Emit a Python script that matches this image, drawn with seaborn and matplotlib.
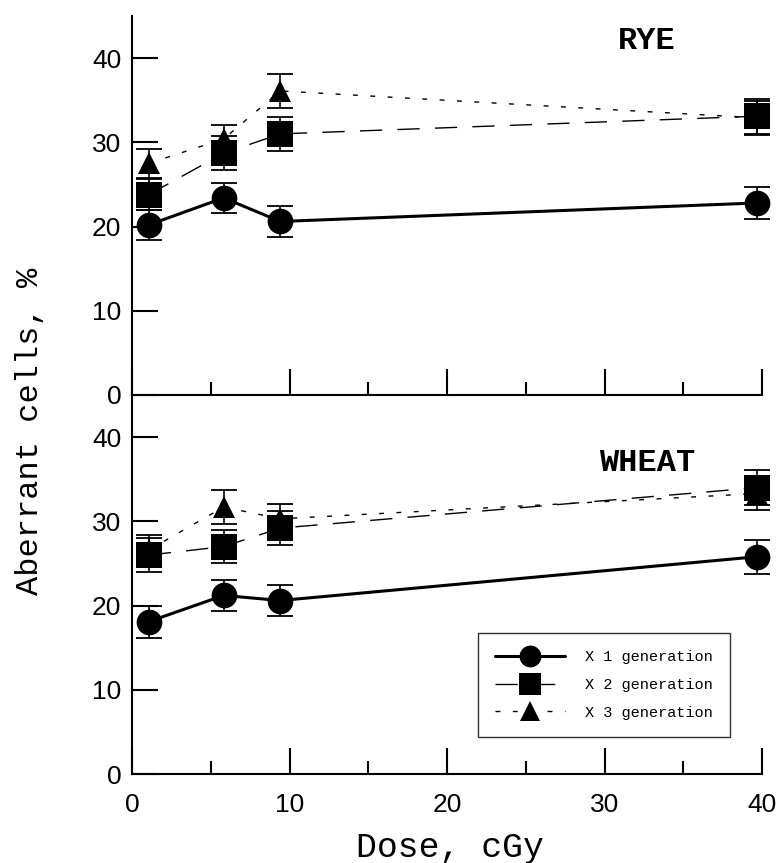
import matplotlib
matplotlib.use("Agg")
import matplotlib.pyplot as plt
from matplotlib.ticker import MultipleLocator
import seaborn as sns

# dose points (cGy)
dose = [1.05, 5.8, 9.4, 39.7]

# RYE - aberrant cells, %
rye_x1 = [20.2, 23.4, 20.6, 22.8]
rye_x1_err = [1.8, 1.8, 1.8, 1.9]
rye_x2 = [23.8, 28.7, 31.0, 33.1]
rye_x2_err = [1.8, 2.0, 2.0, 2.1]
rye_x3 = [27.5, 30.4, 36.1, 32.9]
rye_x3_err = [1.7, 1.6, 2.0, 2.0]

# WHEAT - aberrant cells, %
wheat_x1 = [18.1, 21.2, 20.6, 25.8]
wheat_x1_err = [1.9, 1.8, 1.8, 2.0]
wheat_x2 = [26.0, 27.0, 29.2, 34.0]
wheat_x2_err = [2.0, 2.0, 2.0, 2.1]
wheat_x3 = [26.6, 31.7, 30.3, 33.3]
wheat_x3_err = [1.8, 2.0, 1.7, 2.0]

labels = ["X 1 generation", "X 2 generation", "X 3 generation"]

sns.set_theme(style="white")
plt.rcParams['font.family'] = ['Liberation Sans', 'DejaVu Sans']
plt.rcParams['text.color'] = 'black'
plt.rcParams['xtick.color'] = 'black'
plt.rcParams['ytick.color'] = 'black'
plt.rcParams['axes.labelcolor'] = 'black'

fig = plt.figure(figsize=(7.84, 8.63), dpi=100)
ax_top = fig.add_axes([0.1688, 0.5423, 0.8032, 0.4392])
ax_bot = fig.add_axes([0.1688, 0.1031, 0.8032, 0.4392])

# style per generation: marker, markersize, linewidth, linestyle
styles = {
    0: dict(marker='o', markersize=18.5, linewidth=2.2, linestyle='-'),
    1: dict(marker='s', markersize=18.5, linewidth=1.0, linestyle=(0, (16, 11))),
    2: dict(marker='^', markersize=16.5, linewidth=1.0, linestyle=(0, (3.5, 9))),
}


def draw_panel(ax, series, errs, name, name_y):
    # X3 drawn before X2 so the squares sit on top
    for i in [0, 2, 1]:
        ax.errorbar(dose, series[i], yerr=errs[i], fmt='none', ecolor='black',
                    elinewidth=1.2, capsize=9.4, capthick=1.3, zorder=2,
                    clip_on=False)
        sns.lineplot(x=dose, y=series[i], ax=ax, color='black', legend=False,
                     label=labels[i], markeredgewidth=0, clip_on=False,
                     zorder=3, **styles[i])
    ax.set_xlim(0, 40)
    ax.set_ylim(0, 45)
    ax.set_xlabel('')
    ax.set_ylabel('')
    ax.xaxis.set_major_locator(MultipleLocator(10))
    ax.xaxis.set_minor_locator(MultipleLocator(5))
    ax.yaxis.set_major_locator(MultipleLocator(10))
    ax.tick_params(axis='x', which='major', direction='in', length=18.7,
                   width=1.5, color='black', labelsize=19, pad=14,
                   labelcolor='black')
    ax.tick_params(axis='x', which='minor', direction='in', length=9.4,
                   width=1.5, color='black')
    ax.tick_params(axis='y', which='major', direction='in', length=18.7,
                   width=1.5, color='black', labelsize=19, pad=8, left=True,
                   labelcolor='black')
    ax.tick_params(axis='x', bottom=True, which='both')
    for side in ['top', 'right']:
        ax.spines[side].set_visible(False)
    for side in ['left', 'bottom']:
        ax.spines[side].set_linewidth(1.5)
        ax.spines[side].set_color('black')
    ax.set_facecolor('none')
    ax.text(32.7, name_y, name, ha='center', va='center', fontsize=23,
            fontweight='bold', family='Liberation Mono', color='black')


draw_panel(ax_top, [rye_x1, rye_x2, rye_x3],
           [rye_x1_err, rye_x2_err, rye_x3_err], "RYE", 42.0)
draw_panel(ax_bot, [wheat_x1, wheat_x2, wheat_x3],
           [wheat_x1_err, wheat_x2_err, wheat_x3_err], "WHEAT", 36.9)

ax_top.tick_params(axis='x', labelbottom=False)

# legend in the lower panel, ordered X1, X2, X3
handles, labs = ax_bot.get_legend_handles_labels()
order = [labs.index(l) for l in labels]
leg = ax_bot.legend([handles[k] for k in order], [labs[k] for k in order],
                    loc='upper left', bbox_to_anchor=(0.610, 0.266),
                    bbox_transform=fig.transFigure, borderaxespad=0,
                    prop={'family': 'Liberation Mono', 'size': 11},
                    handlelength=4.6, handletextpad=1.3, borderpad=1.1,
                    labelspacing=0.9, markerscale=0.85, frameon=True,
                    fancybox=False, edgecolor='black')
leg.get_frame().set_linewidth(1.0)
for t in leg.get_texts():
    t.set_color('black')

fig.text(0.038, 0.5, "Aberrant cells, %", rotation=90, ha='center',
         va='center', fontsize=23, family='Liberation Mono', color='black')
fig.text(0.574, 0.0185, "Dose, cGy", ha='center', va='center', fontsize=25,
         family='Liberation Mono', color='black')

fig.savefig("out.png", dpi=100, facecolor='white')
